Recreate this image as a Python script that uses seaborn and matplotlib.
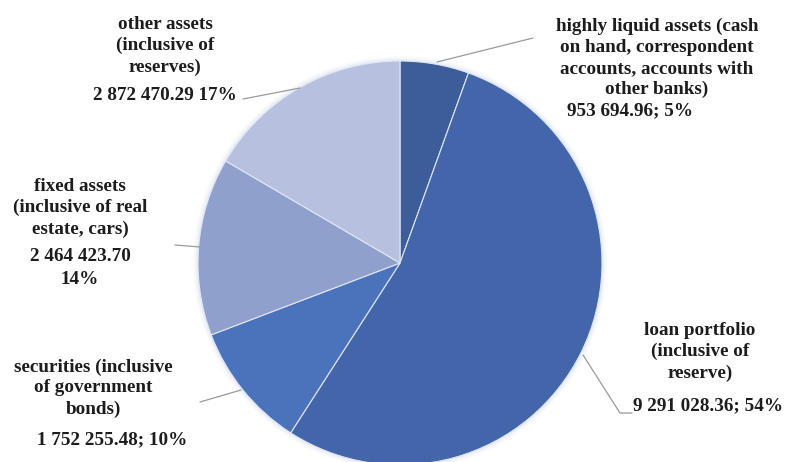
import matplotlib
matplotlib.use("Agg")
import matplotlib.pyplot as plt
import matplotlib.patches as mpatches
import seaborn as sns

sns.set_theme(style="white")
plt.rcParams["font.family"] = ["Liberation Serif", "DejaVu Serif"]

categories = [
    "highly liquid assets (cash\non hand, correspondent\naccounts, accounts with\nother banks)",
    "loan portfolio\n(inclusive of\nreserve)",
    "securities (inclusive\nof government\nbonds)",
    "fixed assets\n(inclusive of real\nestate, cars)",
    "other assets\n(inclusive of\nreserves)",
]
values = [953694.96, 9291028.36, 1752255.48, 2464423.70, 2872470.29]
value_labels = ["953 694.96; 5%", "9 291 028.36; 54%", "1 752 255.48; 10%",
                "2 464 423.70\n14%", "2 872 470.29 17%"]
colors = ["#3c5c9a", "#4266a9", "#4a73bb", "#8fa0cd", "#b7c1df"]

W, H = 785, 462
fig = plt.figure(figsize=(W / 100, H / 100), dpi=100)
ax = fig.add_axes([0, 0, 1, 1])

cx, cy, r = 400, 263, 202

# soft glow around the pie
for k, a in [(5, 0.08), (3.5, 0.12), (2, 0.18)]:
    ax.add_patch(mpatches.Circle((cx, cy), r + k, color="#c9d3ea", alpha=a, lw=0))

# y axis runs downward, so startangle=-90 points up and counterclock=True runs clockwise on screen
wedges, _ = ax.pie(values, colors=colors, startangle=-90, counterclock=True,
                   center=(cx, cy), radius=r, frame=True,
                   wedgeprops=dict(edgecolor="#dfe6f3", linewidth=0.8))
ax.set_xlim(0, W)
ax.set_ylim(H, 0)
ax.set_aspect("equal")
ax.axis("off")

tk = dict(fontsize=13.8, fontweight="bold", color="#1c1c1c", linespacing=1.3)
lk = dict(color="#9a9a9a", lw=0.9)

# highly liquid assets
ax.text(657, 58, categories[0], ha="center", va="center", **tk)
ax.text(567, 111, value_labels[0], ha="left", va="center", **tk)
ax.plot([437, 533], [62, 38], **lk)

# loan portfolio
ax.text(700, 352, categories[1], ha="center", va="center", **tk)
ax.text(633, 406, value_labels[1], ha="left", va="center", **tk)
ax.plot([583, 620, 632], [355, 413, 413], **lk)

# securities
ax.text(93, 388, categories[2], ha="center", va="center", **tk)
ax.text(112, 440, value_labels[2], ha="center", va="center", **tk)
ax.plot([200, 241], [402, 390], **lk)

# fixed assets
ax.text(80, 208, categories[3], ha="center", va="center", **tk)
ax.text(80, 268, value_labels[3], ha="center", va="center", **{**tk, "linespacing": 1.45})
ax.plot([175, 200], [245, 247], **lk)

# other assets
ax.text(165, 46, categories[4], ha="center", va="center", **tk)
ax.text(165, 96, value_labels[4], ha="center", va="center", **tk)
ax.plot([243, 300], [99, 88], **lk)

fig.savefig("out.png", dpi=100, facecolor="white")
